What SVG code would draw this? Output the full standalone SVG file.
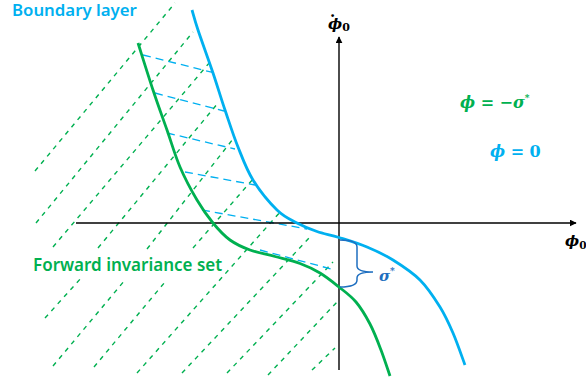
<svg xmlns="http://www.w3.org/2000/svg" width="586" height="381" viewBox="0 0 586 381">
<defs>
<style>
.hatch{stroke:#00B050;stroke-width:1.4;stroke-dasharray:4.5 5;fill:none}
.bdash{stroke:#00B0F0;stroke-width:1.3;stroke-dasharray:8 5;fill:none}
.axis{stroke:#000;stroke-width:1.4;fill:none}
.lbl{font-family:"Noto Sans","Open Sans",sans-serif;font-weight:600}
.m{font-family:"DejaVu Serif","Liberation Serif",serif;font-weight:bold;font-style:italic}
.up{font-style:normal}
</style>
<marker id="arr" viewBox="0 0 10 10" refX="9" refY="5" markerWidth="7" markerHeight="7" markerUnits="userSpaceOnUse" orient="auto">
<path d="M0,0 L10,5 L0,10 z" fill="#000"/>
</marker>
</defs>
<rect width="586" height="381" fill="#fff"/>
<g id="hatching">
<line class="hatch" x1="35" y1="171" x2="175" y2="3"/>
<line class="hatch" x1="36" y1="223" x2="193" y2="32"/>
<line class="hatch" x1="53" y1="247" x2="210" y2="62"/>
<line class="hatch" x1="98" y1="248" x2="218" y2="103"/>
<line class="hatch" x1="45" y1="318" x2="82" y2="277"/>
<line class="hatch" x1="147" y1="249" x2="233" y2="139"/>
<line class="hatch" x1="53" y1="366" x2="125" y2="280"/>
<line class="hatch" x1="193" y1="248" x2="253" y2="179"/>
<line class="hatch" x1="94" y1="367" x2="165" y2="282"/>
<line class="hatch" x1="137" y1="373" x2="281" y2="211"/>
<line class="hatch" x1="182" y1="373" x2="310" y2="237"/>
<line class="hatch" x1="227" y1="373" x2="333" y2="262"/>
<line class="hatch" x1="268" y1="375" x2="337" y2="302"/>
<line class="hatch" x1="312" y1="370" x2="335" y2="348"/>
</g>
<g id="connectors">
<line class="bdash" x1="143" y1="55" x2="215" y2="73"/>
<line class="bdash" x1="155" y1="93" x2="224" y2="111"/>
<line class="bdash" x1="167" y1="133" x2="235" y2="149"/>
<line class="bdash" x1="185" y1="172" x2="255" y2="185"/>
<line class="bdash" x1="202" y1="210" x2="307" y2="229"/>
<line class="bdash" x1="260" y1="250" x2="335" y2="270"/>
</g>
<g id="axes">
<line class="axis" x1="76" y1="223" x2="576" y2="223" marker-end="url(#arr)"/>
<line class="axis" x1="339" y1="370" x2="339" y2="37" marker-end="url(#arr)"/>
</g>
<g id="boundary-curve">
<path d="M192,10 C193,13.3 194.5,19.5 198,30 C201.5,40.5 208.5,59.7 213,73 C217.5,86.3 220.8,97.7 225,110 C229.2,122.3 233.3,135.3 238,147 C242.7,158.7 246.5,169.5 253,180 C259.5,190.5 269.7,202.8 277,210 C284.3,217.2 290.3,219.4 297,223 C303.7,226.6 310,229.1 317,231.5 C324,233.9 330.7,234.9 339,237.5 C347.3,240.1 358,243.25 367,247 C376,250.75 384.2,254.5 393,260 C401.8,265.5 412.2,272.2 420,280 C427.8,287.8 434.5,298.2 440,307 C445.5,315.8 448.8,323.3 453,333 C457.2,342.7 463,359.7 465,365" fill="none" stroke="#00B0F0" stroke-width="2.8"/>
</g>
<g id="invariance-curve">
<path d="M138,43 C140.5,50.8 148.2,75.5 153,90 C157.8,104.5 162.5,117.2 167,130 C171.5,142.8 175,155.3 180,167 C185,178.7 191.5,190.7 197,200 C202.5,209.3 207.5,216.3 213,223 C218.5,229.7 223.8,235.5 230,240 C236.2,244.5 242.5,247.25 250,250 C257.5,252.75 266.7,254.25 275,256.5 C283.3,258.75 292.5,260.75 300,263.5 C307.5,266.25 313.5,269.1 320,273 C326.5,276.9 333,282.2 339,287 C345,291.8 350.8,295.8 356,302 C361.2,308.2 365.8,316 370,324 C374.2,332 377.7,341.3 381,350 C384.3,358.7 388.5,371.7 390,376" fill="none" stroke="#00B050" stroke-width="2.8"/>
</g>
<g id="brace">
<path d="M340,240 Q357,240 357,247 L357,266 Q357,272 373,272 Q357,272 357,278 L357,280 Q357,287 340,287" fill="none" stroke="#1F6FC0" stroke-width="1.5"/>
<text class="m" x="379" y="281" font-size="15" fill="#1F6FC0">σ<tspan class="up" font-size="9" dy="-7">*</tspan></text>
</g>
<g id="labels">
<text class="lbl" x="12" y="16.3" font-size="16.8" fill="#00B0F0">Boundary layer</text>
<text class="lbl" x="33" y="270.7" font-size="17" fill="#00B050">Forward invariance set</text>
<text class="m" x="328" y="29" font-size="15" fill="#000">ϕ<tspan class="up" font-size="11" dy="2">0</tspan><tspan class="up" x="330" y="17" font-size="15">.</tspan></text>
<text class="m" x="565" y="246" font-size="15" fill="#000">ϕ<tspan class="up" font-size="10.5" dy="3">0</tspan></text>
<text class="m" x="460" y="108" font-size="16" fill="#00B050">ϕ = −σ<tspan class="up" font-size="9" dy="-7">*</tspan></text>
<text class="m" x="490" y="157" font-size="16" fill="#00B0F0">ϕ = <tspan class="up">0</tspan></text>
</g>
</svg>
